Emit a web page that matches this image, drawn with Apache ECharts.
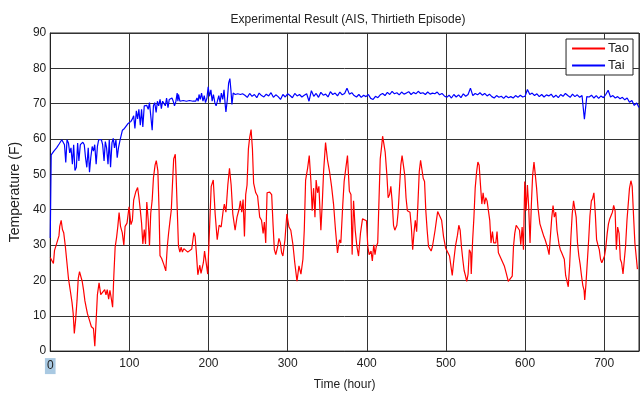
<!DOCTYPE html>
<html>
<head>
<meta charset="utf-8">
<script src="https://cdn.jsdelivr.net/npm/echarts@6/dist/echarts.min.js"></script>
<style>
  html, body { margin: 0; padding: 0; background: #fff; }
  #chart { width: 642px; height: 396px; }
</style>
</head>
<body>
<div id="chart"></div>
<script>
// Tao (outdoor)
const taoHours = [
  0, 2.5, 4, 5.4, 7.5, 9.6, 11, 12, 13.8, 15.4, 17, 19, 21, 23, 25.4, 27.5, 29, 30.4, 32, 33.8,
  35.4, 37, 38.8, 40.4, 42, 43.8, 45.4, 47, 49.6, 52, 54.6, 56.3, 58, 59.6, 61.7, 63.8, 66, 68.8, 70.4, 72,
  73.8, 75.4, 77, 78.8, 80.4, 82, 83.8, 85.4, 87, 88.8, 91, 93, 94.6, 97, 99.6, 102, 103.8, 105.4, 108, 110.4,
  112, 113.8, 115.4, 117, 118.8, 120.4, 122, 123.8, 125.4, 127, 128.8, 130.4, 132.5, 134, 136, 137.5, 138.7, 140.8, 143.7, 146,
  148, 149.6, 151, 153, 154.6, 156, 158, 159, 160.4, 162, 163.8, 165.4, 167, 168.8, 171, 173.8, 176, 178.8, 181.5, 183,
  184.6, 186.5, 189, 190.5, 192, 193.5, 195, 197.5, 199, 201.7, 203.4, 206, 208.4, 211, 213.4, 216, 218.5, 220, 222, 224.4,
  226.5, 228.6, 230.7, 233.6, 236, 238.7, 240.3, 242, 243.7, 245.4, 247, 248.7, 250.4, 252, 253.8, 255.5, 257, 259.7, 262, 264.7,
  267, 269, 270.6, 272.3, 274, 277.3, 279.8, 281.5, 283.2, 285, 287.4, 289, 290.8, 292.4, 294, 296.6, 299, 301.7, 304, 306.7,
  309, 311.8, 314.3, 316.8, 319.3, 321, 322.7, 325.2, 327.3, 329.4, 331, 332.8, 334.5, 336, 337.8, 339.5, 342, 343.7, 345.4, 347.9,
  350.4, 353, 355.5, 358, 360.5, 363, 365.5, 367.2, 369.7, 371.4, 374, 375.6, 378, 380, 381.5, 383.3, 385.4, 387.5, 389.6, 392,
  394.6, 397, 399.6, 401.3, 403, 405.4, 407, 408.8, 410.4, 412, 413.8, 415.4, 417, 418.8, 420, 421.7, 423.3, 425.4, 427, 428.8,
  430.4, 432, 433.8, 435.4, 438, 439.6, 441.3, 443, 444.6, 446.3, 448, 449.6, 451.3, 453, 454.6, 456.3, 458, 459.6, 461.3, 463,
  464.6, 466.3, 468, 469.6, 471.3, 473, 474.6, 476.3, 478, 479.6, 481.3, 483, 484.6, 486.3, 488, 489.6, 492, 494.6, 497, 499.6,
  502, 504.6, 506.3, 508, 509.6, 512, 514.6, 516.3, 518, 519.6, 521.3, 523, 524.6, 526.3, 528, 529.6, 531.3, 532, 533.8, 535.4,
  537, 538.8, 540.4, 542, 543.8, 545.4, 547, 548.8, 550.4, 552, 553.8, 555.4, 557, 558.8, 560.4, 563, 564.6, 566.3, 568, 570,
  573.8, 576.3, 578.8, 581.3, 583.8, 585.4, 587, 588.8, 591.3, 593, 594.6, 596.3, 598, 599.6, 601.3, 603, 604.6, 606.3, 608, 609.6,
  611.3, 613, 614.6, 616.3, 618.8, 621.3, 623.8, 625.4, 628, 630.4, 632, 633.8, 635.4, 637, 638.8, 640.4, 643, 644.6, 646.3, 648,
  649.6, 651.3, 653, 654.6, 656.3, 658, 659.6, 661.3, 663, 664.6, 666.3, 668, 669.6, 671.3, 673, 674.6, 675.4, 677, 678.8, 680.4,
  682, 683.8, 685.4, 687, 688.8, 690.4, 692, 693.8, 695.4, 697, 698.8, 700.4, 702, 703.8, 705.4, 707, 708.8, 710.4, 712, 713.8,
  715.4, 717, 718.8, 720.4, 722, 723.8, 725.4, 727, 728.8, 730.4, 732, 733.8, 735.4, 737, 738.8, 740.4, 742
];
const taoTemps = [
  26.5, 26, 24.8, 28.5, 30, 30.3, 32.6, 35.3, 37, 34.4, 33.5, 29.8, 25.2, 20.6, 17, 13.8, 10.6, 5, 8.7, 14.2,
  20.6, 22.5, 22.7, 19.7, 17.4, 14.2, 12.4, 10.6, 8.7, 6.9, 6.4, 1.4, 8.7, 16, 19.3, 16, 15.9, 17.4, 15.9, 17.4,
  14.7, 17.2, 15.1, 12.4, 21.6, 29.4, 32.1, 35.3, 39.2, 35.3, 33.5, 30, 35.3, 36.2, 40.8, 35.8, 37, 42.7, 45, 46.3,
  43.6, 39.9, 36.2, 30.3, 34.4, 30.3, 42.2, 37, 29.8, 39, 42.7, 49, 52.7, 53.9, 51, 40, 27, 26.2, 24.4, 22.7,
  29.8, 33.5, 36.2, 40, 48, 54.4, 55.7, 50, 40.7, 29.8, 28, 29.4, 28, 29, 28.5, 28, 27.5, 28.9, 33.5, 32.5,
  28, 21.6, 24.3, 22, 21.6, 25, 28.3, 28.7, 21.8, 37, 46.6, 48.4, 38.8, 31.5, 35.6, 35.1, 39.7, 41.6, 39.3, 47,
  51.7, 47, 38.8, 34.2, 37.9, 40.2, 42.5, 39.3, 42.9, 32.4, 44.3, 47, 57.2, 60.4, 62.7, 57.2, 47.5, 44.8, 43.9, 37.9,
  37, 33.3, 36.5, 30.6, 44.8, 45, 44.3, 36, 28.7, 27.3, 29.6, 31.9, 30.6, 27.8, 26.9, 31.5, 38.8, 35.1, 34.2, 30.1,
  25, 19.8, 24.1, 21.8, 26, 34.2, 48.4, 51.7, 55.3, 48, 39.7, 46.1, 37.9, 48.4, 44.8, 46.6, 34.2, 41.6, 50.7, 59,
  54, 50.7, 46.6, 41.6, 34.2, 27.8, 31.5, 30.6, 41.6, 48, 52.6, 55.3, 45.2, 44.3, 27.3, 42.5, 34.2, 29.6, 26.9, 33.3,
  37.4, 37.6, 36.9, 29.6, 27.3, 28.3, 25.5, 30.1, 27.3, 29.6, 30.6, 42.5, 54.4, 58, 60.8, 58.5, 56.2, 49.8, 43.4, 44.3,
  46.6, 42.5, 35.6, 34.2, 35.6, 39.3, 46.1, 52.6, 55.3, 54.9, 49.8, 43.4, 39.7, 40.2, 39.3, 35.1, 28.7, 33.3, 37, 33.8,
  41.6, 50.7, 54, 53.5, 48.9, 48, 39.7, 34.2, 29.6, 29.2, 28.3, 29.6, 30.1, 34.2, 37, 39.5, 39.5, 37, 32.4, 29.2,
  28.7, 26.9, 24.1, 21.4, 25, 29.6, 32.8, 35.6, 34.2, 29.6, 26, 22.8, 21.4, 19.7, 21.8, 28.7, 27.8, 21.8, 31.5, 37.9,
  46.1, 50.7, 53.5, 52.6, 46.6, 41.6, 44.8, 41.6, 43.4, 42.5, 42, 37, 30.6, 33.8, 30.6, 30.6, 33.8, 27.8, 28.3, 26,
  24.1, 22, 19.7, 19.3, 21.2, 29.6, 33.3, 35.6, 35.6, 34.2, 30.1, 35.1, 28.7, 48, 39.7, 47, 40.7, 30.6, 41.6, 49.8,
  53.5, 49.8, 46.1, 40.7, 36, 34.2, 32.4, 31.5, 29.6, 27.3, 32.4, 37.9, 41.2, 37.9, 39.3, 34.2, 30.1, 28.7, 27.8, 28.3,
  26, 21.4, 21, 18.2, 24.1, 32.4, 38.8, 42.5, 42.9, 37.9, 30.6, 26.9, 24.6, 21.4, 18.6, 17.2, 14.5, 19.1, 19.5, 31.5,
  38.3, 42.5, 43.2, 44.8, 38.8, 31.5, 30.1, 28.7, 26, 25, 26, 26.9, 29.2, 33.3, 36, 37.4, 37.9, 39.3, 41.2, 39.7,
  28.7, 35.1, 33.3, 26, 25, 21.8, 21.8, 29.6, 37, 41.6, 46.1, 48.2, 46.6, 38.8, 30.6, 30.1, 23.2
];

// Tai (indoor)
const taiHours = [
  0, 1.2, 4.6, 8, 11.2, 14.6, 16.2, 18, 19.6, 21.2, 23, 24.6, 26.2, 28, 29.6, 31.2, 33, 34.6, 36.2, 38,
  39.6, 41.2, 43, 44.6, 46.2, 48, 49.6, 51.2, 53, 54.6, 56.2, 58, 59.6, 61.2, 63, 64.6, 66.2, 68, 69.6, 71.2,
  73, 74.6, 76.2, 78, 79.6, 81.2, 83, 84.6, 86.2, 88, 89.6, 91.2, 93.8, 96.2, 98, 100.4, 102, 103.8, 105.4, 107,
  108.8, 110.4, 112, 113.8, 115.4, 117, 118.8, 120.4, 122, 123.8, 125.4, 127, 128.8, 130.4, 132, 133.8, 135.4, 137, 138.8, 140.4,
  142, 143.8, 145.4, 147, 148.8, 150.4, 152, 153.8, 155.4, 157, 158.8, 160.4, 161.3, 162, 163.8, 168, 172, 176, 180.4, 183.8,
  185.4, 187, 188, 189.6, 191.2, 193, 194.6, 196.2, 198, 199.6, 201.2, 203, 204.6, 206.2, 208, 209.6, 211.2, 213, 214.6, 216.2,
  218, 219.6, 221.2, 222, 223.8, 225.4, 227, 228.3, 229.6, 231.2, 233.8, 237, 240.4, 243,
  246, 249, 252, 255, 258, 261, 264, 267, 270, 273, 276, 279, 282, 285, 288, 291, 294, 297, 300, 303,
  306, 309, 312, 315, 318, 321, 324, 327, 330, 333, 336, 339, 342, 345, 348, 351, 354, 357, 360, 363,
  366, 369, 372, 375, 378, 381, 384, 387, 390, 393, 396, 399, 402, 405, 408, 411, 414, 417, 420, 423,
  426, 429, 432, 435, 438, 441, 444, 447, 450, 453, 456, 459, 462, 465, 468, 471, 474, 477, 480, 483,
  486, 489, 492, 495, 498, 501, 504, 507, 510, 513, 516, 519, 522, 525, 528, 531, 534, 537, 540, 543,
  546, 549, 552, 555, 558, 561, 564, 567, 570, 573, 576, 579, 582, 585, 588, 591, 594, 597, 600, 603,
  606, 609, 612, 615, 618, 621, 624, 627, 630, 633, 636, 639, 642, 645, 648, 651, 654, 657, 660, 663,
  666, 669, 672, 675, 678, 681, 684, 687, 690, 693, 696, 699, 702, 705, 708, 711, 714, 717, 720, 723,
  726, 729, 732, 735, 738, 741, 744
];
const taiTemps = [
  32, 55.5, 56.6, 57.5, 58.6, 59.8, 60.2, 58.4, 53.4, 59.8, 58.9, 56.1, 57.5, 52.9, 58.4, 51.1, 52, 58.9, 53.8, 58.4,
  58.9, 59.1, 58.4, 54.7, 52, 57.5, 50.6, 54.7, 57.9, 56.6, 58.4, 52.9, 57.9, 59.8, 60, 59.8, 58.4, 53.8, 59.3, 57.5,
  52.9, 59.8, 52, 58.9, 60.2, 57.5, 59.8, 54.7, 57.5, 59.5, 59.8, 62.5, 63, 63.4, 64.3, 63.9, 65, 65.7, 66.6, 63,
  68, 65.7, 68.4, 63.9, 68.4, 63.4, 69.4, 68.9, 69.5, 68.4, 70.3, 69.8, 62.5, 69.4, 70.3, 67.5, 70.7, 69.4, 71.2, 68.6,
  70.7, 70.7, 69.4, 71.6, 68.9, 71.2, 70.7, 71.6, 70.7, 69.4, 70.7, 73, 70.7, 72.6, 70.7, 70.9, 70.7, 70.9, 70.7, 70.7,
  71.6, 70.7, 72.6, 71.2, 73, 70.7, 72.3, 70.3, 71.6, 74.8, 72.1, 73.9, 70.7, 72.6, 70.3, 69.4, 70.7, 72.3, 70.3, 73,
  71.2, 73.9, 69.4, 67.7, 71.2, 75.8, 77.1, 73.9, 69.8, 73, 72.6, 72.8, 72.6, 72.8,
  72.4, 71.8, 72.9, 72.1, 72.6, 71.7, 73.0, 72.3, 71.9, 72.7, 72.2, 73.1, 71.8, 72.5, 72.0, 71.2, 72.6, 71.9, 72.8, 72.3,
  71.7, 72.9, 72.2, 72.6, 71.9, 72.4, 72.8, 70.7, 73.7, 72.1, 72.9, 71.8, 73.2, 72.4, 72.7, 71.9, 73.4, 72.6, 73.0, 72.2,
  73.3, 72.5, 72.9, 74.4, 72.7, 73.1, 72.3, 71.9, 72.6, 71.8, 72.4, 72.0, 72.6, 71.5, 71.2, 72.1, 71.7, 72.5, 72.9, 72.3,
  73.2, 72.6, 73.5, 72.8, 73.1, 72.5, 73.3, 72.7, 73.0, 73.4, 72.6, 73.2, 72.8, 73.5, 72.9, 73.1, 72.6, 73.3, 72.7, 73.0,
  72.8, 73.3, 72.5, 72.9, 72.2, 71.8, 72.4, 71.6, 72.6, 71.9, 72.5, 71.7, 72.8, 72.1, 72.6, 74.4, 72.3, 72.9, 72.5, 73.1,
  72.4, 72.9, 72.2, 72.7, 72.0, 71.6, 72.3, 71.8, 72.1, 71.5, 72.2, 71.7, 72.0, 71.6, 72.3, 71.8, 72.4, 71.9, 72.1, 74.0,
  72.6, 73.0, 72.3, 72.8, 72.0, 72.6, 71.9, 72.5, 72.2, 72.7, 71.8, 72.4, 71.7, 72.6, 72.1, 72.9, 72.3, 71.8, 72.7, 72.0,
  72.5, 71.8, 72.3, 65.6, 72.0, 71.9, 72.4, 71.6, 72.3, 71.5, 72.2, 71.7, 72.6, 73.8, 71.9, 72.3, 71.6, 72.0, 71.4, 71.8,
  71.1, 71.6, 70.4, 70.9, 69.5, 70.2, 68.9
];

const yTicks = [0, 10, 20, 30, 40, 50, 60, 70, 80, 90];
const xTicks = [0, 100, 200, 300, 400, 500, 600, 700];

const pair = (xs, ys) => xs.map((x, i) => [x, ys[i]]);

const chart = echarts.init(document.getElementById('chart'));
const font = 'Liberation Sans, Arial, sans-serif';

chart.setOption({
  animation: false,
  backgroundColor: '#fff',
  textStyle: { fontFamily: font },
  title: {
    text: 'Experimental Result (AIS, Thirtieth Episode)',
    left: 343,
    top: 9,
    textAlign: 'center',
    textStyle: { fontSize: 12, fontWeight: 'normal', color: '#222', fontFamily: font }
  },
  legend: {
    orient: 'vertical',
    right: 9,
    top: 39,
    itemWidth: 33,
    itemHeight: 2,
    itemGap: 4,
    padding: [3, 4, 3, 6],
    borderColor: '#222',
    borderWidth: 1,
    backgroundColor: '#fff',
    icon: 'rect',
    textStyle: { fontSize: 13, color: '#222', padding: [0, 0, 0, -2] },
    data: ['Tao', 'Tai']
  },
  grid: {
    left: 46, right: 3, top: 33, bottom: 38,
    show: true, borderColor: '#222', borderWidth: 1
  },
  xAxis: {
    type: 'value',
    min: 0, max: 744, interval: 100,
    name: 'Time (hour)',
    nameLocation: 'middle',
    nameGap: 24,
    nameTextStyle: { fontSize: 12, color: '#222' },
    axisLine: { show: true, lineStyle: { color: '#222' } },
    axisTick: { show: false },
    axisLabel: {
      fontSize: 12, color: '#222', margin: 7, showMaxLabel: false,
      formatter: v => (v === 0 ? '{hl|0}' : (xTicks.includes(v) ? String(v) : '')),
      rich: { hl: { backgroundColor: '#a9c9e2', padding: [2, 2, 2, 2], fontSize: 12, color: '#222' } }
    },
    splitLine: { show: true, lineStyle: { color: '#333', width: 1 } }
  },
  yAxis: {
    type: 'value',
    min: 0, max: 90, interval: 10,
    name: 'Temperature (F)',
    nameLocation: 'middle',
    nameGap: 24,
    nameTextStyle: { fontSize: 14, color: '#222' },
    axisLine: { show: true, lineStyle: { color: '#222' } },
    axisTick: { show: false },
    axisLabel: {
      fontSize: 12, color: '#222', margin: 4,
      formatter: v => (yTicks.includes(v) ? String(v) : '')
    },
    splitLine: { show: true, lineStyle: { color: '#333', width: 1 } }
  },
  series: [
    {
      name: 'Tao', type: 'line', showSymbol: false, symbol: 'none',
      color: '#ff0000', lineStyle: { width: 1.2, color: '#ff0000' },
      data: pair(taoHours, taoTemps)
    },
    {
      name: 'Tai', type: 'line', showSymbol: false, symbol: 'none',
      color: '#0000ff', lineStyle: { width: 1.2, color: '#0000ff' },
      data: pair(taiHours, taiTemps)
    }
  ]
});
</script>
</body>
</html>
